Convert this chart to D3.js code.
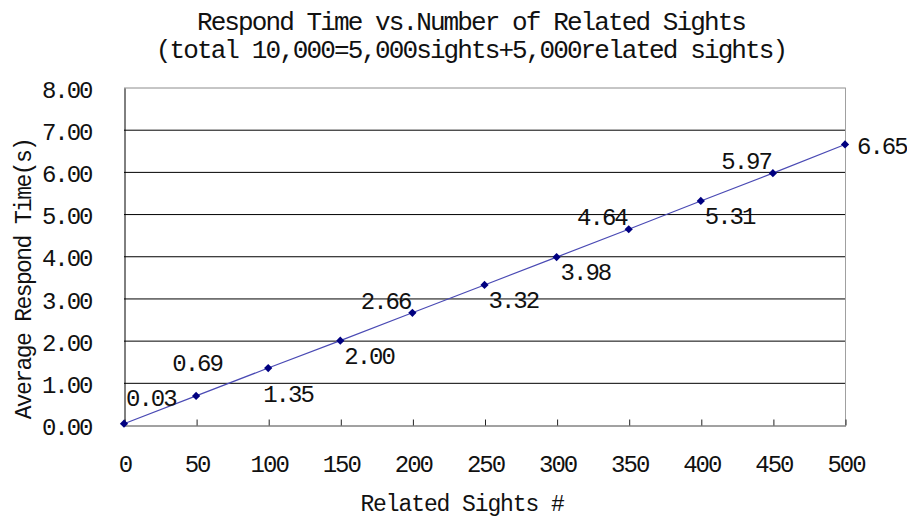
<!DOCTYPE html>
<html>
<head>
<meta charset="utf-8">
<script src="https://cdn.jsdelivr.net/npm/d3@7"></script>
<style>
  body { margin: 0; background: #fff; }
  text { font-family: "Liberation Mono", "DejaVu Sans Mono", monospace; fill: #111; }
</style>
</head>
<body>
<script>
// data
var sights = [0, 50, 100, 150, 200, 250, 300, 350, 400, 450, 500];
var times = [0.03, 0.69, 1.35, 2.00, 2.66, 3.32, 3.98, 4.64, 5.31, 5.97, 6.65];
var yTicks = [0, 1, 2, 3, 4, 5, 6, 7, 8];
var titleLines = ["Respond Time vs.Number of Related Sights",
    "(total 10,000=5,000sights+5,000related sights)"];
var xTitle = "Related Sights #";
var yTitle = "Average Respond Time(s)";
// where each value label sits around its point (like excel did it)
var labelSide = ["ne", "n", "s", "se", "nw", "se", "se", "nw", "se", "nw", "e"];

var W = 907, H = 518;
var margin = {top: 87.5, right: 62, bottom: 93, left: 124};
var width = W - margin.left - margin.right,
    height = H - margin.top - margin.bottom;

// glyphs in the picture are tall and narrow, so bigger size + tighter spacing
var numFont = {size: "24px", ls: "-2px"};

var svg = d3.select("body").append("svg")
    .attr("width", W)
    .attr("height", H);

var g = svg.append("g")
    .attr("transform", "translate(" + margin.left + "," + margin.top + ")");

var x = d3.scaleLinear().domain([0, 500]).range([0, width]);
var y = d3.scaleLinear().domain([0, 8]).range([height, 0]);

// horizontal gridlines
g.selectAll("line.grid")
    .data(yTicks.slice(1, -1))
    .enter()
    .append("line")
    .attr("class", "grid")
    .attr("x1", 0).attr("x2", width)
    .attr("y1", function(d) { return y(d) + 0.5; })
    .attr("y2", function(d) { return y(d) + 0.5; })
    .style("stroke", "#000")
    .style("stroke-width", 1);

// top and right border are grey
g.append("line")
    .attr("x1", 0).attr("x2", width)
    .attr("y1", 0.5).attr("y2", 0.5)
    .style("stroke", "#8c8c8c");
g.append("line")
    .attr("x1", width + 0.5).attr("x2", width + 0.5)
    .attr("y1", 0).attr("y2", height)
    .style("stroke", "#a0a0a0");

// y axis
var yAxis = d3.axisLeft(y).tickValues(yTicks).tickSize(0).tickPadding(33)
    .tickFormat(d3.format(".2f"));
var yg = g.append("g").attr("transform", "translate(0.5,0.5)").call(yAxis);
yg.select(".domain").style("stroke", "#000");
yg.selectAll("text")
    .style("font-size", numFont.size)
    .style("letter-spacing", numFont.ls)
    .attr("dy", "0.38em");

// x axis, ticks point inward
var xAxis = d3.axisBottom(x).tickValues(sights).tickSizeInner(-6)
    .tickSizeOuter(0).tickPadding(29);
var xg = g.append("g").attr("transform", "translate(0.5," + (height + 0.5) + ")")
    .call(xAxis);
xg.select(".domain").style("stroke", "#444");
xg.selectAll(".tick line").style("stroke", "#222");
xg.selectAll("text")
    .style("font-size", numFont.size)
    .style("letter-spacing", numFont.ls);

// line and markers
var pts = sights.map(function(s, i) { return [x(s), y(times[i])]; });
g.append("path")
    .datum(pts)
    .attr("d", d3.line())
    .style("fill", "none")
    .style("stroke", "#4a4ab4")
    .style("stroke-width", 1.2);

g.selectAll("path.mark")
    .data(pts)
    .enter()
    .append("path")
    .attr("class", "mark")
    .attr("d", d3.symbol().type(d3.symbolSquare).size(34))
    .attr("transform", function(d) {
        return "translate(" + d[0] + "," + d[1] + ") rotate(45)";
    })
    .style("fill", "#000080");

// value labels
var offs = {
    ne: {dx: 2, dy: -18, anchor: "start"},
    n:  {dx: 1, dy: -25, anchor: "middle"},
    s:  {dx: -5, dy: 34, anchor: "start"},
    se: {dx: 4, dy: 23, anchor: "start"},
    nw: {dx: -2, dy: -4, anchor: "end"},
    e:  {dx: 12, dy: 10, anchor: "start"}
};
g.selectAll("text.val")
    .data(pts)
    .enter()
    .append("text")
    .attr("class", "val")
    .attr("x", function(d, i) { return d[0] + offs[labelSide[i]].dx; })
    .attr("y", function(d, i) { return d[1] + offs[labelSide[i]].dy; })
    .attr("text-anchor", function(d, i) { return offs[labelSide[i]].anchor; })
    .style("font-size", numFont.size)
    .style("letter-spacing", numFont.ls)
    .text(function(d, i) { return d3.format(".2f")(times[i]); });

// titles
svg.selectAll("text.title")
    .data(titleLines)
    .enter()
    .append("text")
    .attr("class", "title")
    .attr("x", 471)
    .attr("y", function(d, i) { return 30 + i * 28; })
    .attr("text-anchor", "middle")
    .style("font-size", "26px")
    .style("letter-spacing", "-1.9px")
    .text(function(d) { return d; });

svg.append("text")
    .attr("x", 462)
    .attr("y", 511)
    .attr("text-anchor", "middle")
    .style("font-size", "23px")
    .style("letter-spacing", "-1.1px")
    .text(xTitle);

svg.append("text")
    .attr("transform", "translate(31,279) rotate(-90)")
    .attr("text-anchor", "middle")
    .style("font-size", "23px")
    .style("letter-spacing", "-1.6px")
    .text(yTitle);
</script>
</body>
</html>
